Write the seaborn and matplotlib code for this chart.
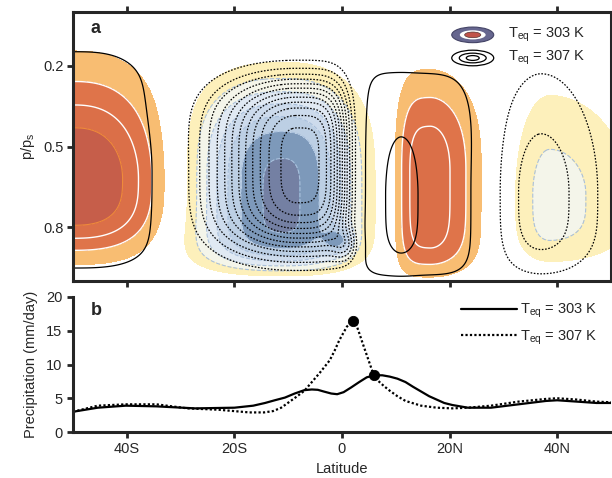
import numpy as np
import pandas as pd
import matplotlib
matplotlib.use("Agg")
import matplotlib.pyplot as plt
import seaborn as sns
from matplotlib.patches import Ellipse

# ---------------- data: panel b (precipitation, mm/day) ----------------
lat_303 = [-50, -45.4, -40.2, -34.5, -27.3, -20, -16.5, -14.3, -12.5, -10.6, -8.8, -7, -5.6,
           -4.5, -3.4, -2, -0.9, 0.3, 1.7, 3.2, 4.6, 6, 7.5, 8.9, 10.3, 11.8, 13.2, 14.7,
           16.2, 17.6, 19, 20.5, 23.4, 27.7, 32.8, 37.9, 40, 43.7, 47.3, 50]
precip_303 = [3.0, 3.6, 3.9, 3.8, 3.5, 3.6, 3.9, 4.3, 4.7, 5.1, 5.7, 6.2, 6.3,
              6.25, 6.0, 5.7, 5.6, 5.9, 6.6, 7.4, 8.1, 8.4, 8.4, 8.2, 7.9, 7.4, 6.7, 6.0,
              5.3, 4.8, 4.3, 4.0, 3.6, 3.6, 4.1, 4.6, 4.7, 4.5, 4.3, 4.3]
lat_307 = [-50, -45.4, -40.2, -34.5, -28.7, -23, -17.2, -14.5, -12.8, -11.3, -9.9, -8.5, -7,
           -5.6, -4.1, -2.3, -1.4, -0.5, 0.9, 2, 2.6, 3.1, 3.9, 4.6, 5.6, 6.7, 7.8, 8.9,
           10.3, 11.8, 14.7, 17.6, 20.5, 23.4, 27.7, 32.8, 37.9, 40, 43.7, 47.3, 50]
precip_307 = [3.0, 3.9, 4.1, 4.1, 3.5, 3.3, 2.9, 2.9, 3.1, 3.6, 4.4, 5.2, 6.1,
              7.4, 8.8, 10.6, 12.0, 13.6, 15.6, 16.5, 16.0, 14.9, 13.0, 11.4, 9.1, 7.6, 6.8, 6.1,
              5.3, 4.6, 3.9, 3.6, 3.5, 3.6, 3.9, 4.5, 4.9, 5.0, 4.8, 4.5, 4.4]
peak_lat = [6, 2]
peak_precip = [8.4, 16.5]
lat_ticks = [-40, -20, 0, 20, 40]
lat_ticklabels = ["40S", "20S", "0", "20N", "40N"]
p_ticks = [0.2, 0.5, 0.8]
precip_ticks = [0, 5, 10, 15, 20]

# ---------------- data: panel a (overturning cells) ----------------
# each cell: [lat0, p0, amplitude, w_south, w_north, w_top, w_bottom, q_south, q_north, q_top, q_bottom]
cell303_sh_ferrel = [-50, 0.62, 5.2, 14, 16, 0.37, 0.27, 2, 2.5, 2, 3]
cell303_hadley = [-11, 0.66, -7.2, 15.5, 13.3, 0.38, 0.29, 2.5, 2.5, 3, 6]
cell303_ascent = [-0.5, 0.85, -2.9, 2.6, 2.2, 0.045, 0.045, 2, 2, 2, 2]
cell303_nh_hadley = [16.3, 0.60, 3.6, 6.4, 8.9, 0.35, 0.37, 3.5, 2, 2.5, 6]
cell303_nh_ferrel = [38.5, 0.68, -2.4, 7.5, 16, 0.40, 0.26, 2, 2, 2, 4]
cells_303 = [cell303_sh_ferrel, cell303_hadley, cell303_ascent, cell303_nh_hadley, cell303_nh_ferrel]

cell307_sh_ferrel = [-50, 0.60, 1.8, 24.8, 22.7, 0.59, 0.42, 2, 3, 2, 3]
cell307_hadley = [-8.5, 0.57, -12.5, 14.3, 9.4, 0.31, 0.31, 2, 4, 4, 4]
cell307_ascent = [0.8, 0.87, -3, 2.5, 2, 0.06, 0.06, 2, 2, 2, 2]
cell307_nh_core = [11, 0.68, 0.9, 2.8, 3.0, 0.22, 0.24, 2, 2, 2, 5]
cell307_nh_broad = [10.5, 0.60, 1.7, 9, 16.7, 0.46, 0.42, 4, 6, 3, 6]
cell307_nh_ferrel = [37, 0.67, -2.5, 8.9, 11, 0.46, 0.31, 2, 2, 2, 4]
cells_307 = [cell307_sh_ferrel, cell307_hadley, cell307_ascent, cell307_nh_core,
             cell307_nh_broad, cell307_nh_ferrel]

fill_levels = [-30, -7, -6, -5, -4, -3, -2, -1, 1, 2, 3, 4, 30]
fill_colors = ["#7480a3", "#7d99ba", "#bccfe4", "#cddbec", "#e0e9f3", "#f4f5ea",
               "#fdf0bb", "#ffffff", "#f8bd72", "#df744a", "#db6f48", "#c65e4a"]
line_levels_307_neg = [-12, -11, -10, -9, -8, -7, -6, -5, -4, -3, -2, -1]
line_levels_307_pos = [1, 2, 3]


def build_field(cells, LAT, P):
    field = np.zeros_like(LAT)
    for lat0, p0, amp, wS, wN, wT, wB, qS, qN, qT, qB in cells:
        dl = LAT - lat0
        dp = P - p0
        ex = np.where(dl < 0, (np.abs(dl) / wS) ** qS, (np.abs(dl) / wN) ** qN)
        ey = np.where(dp < 0, (np.abs(dp) / wT) ** qT, (np.abs(dp) / wB) ** qB)
        field += amp * np.exp(-ex - ey)
    return field


lat_grid = np.linspace(-50, 50, 401)
p_grid = np.linspace(0, 1, 201)
LAT, P = np.meshgrid(lat_grid, p_grid)
psi_303 = build_field(cells_303, LAT, P)
psi_307 = build_field(cells_307, LAT, P)

# ---------------- style ----------------
sns.set_theme(style="ticks")
plt.rcParams["font.family"] = ["Liberation Sans", "DejaVu Sans"]
plt.rcParams["mathtext.fontset"] = "custom"
plt.rcParams["mathtext.rm"] = "Liberation Sans"
plt.rcParams["mathtext.it"] = "Liberation Sans:italic"
plt.rcParams["axes.linewidth"] = 2
FS = 10.5

fig = plt.figure(figsize=(6.12, 4.78), dpi=100)
ax1 = fig.add_axes([73 / 612, 1 - 281 / 478, 538 / 612, 269 / 478])
ax2 = fig.add_axes([73 / 612, 1 - 432 / 478, 538 / 612, 135 / 478])

# ---------------- panel a ----------------
ax1.contourf(LAT, P, psi_303, levels=fill_levels, colors=fill_colors)
ax1.contour(LAT, P, psi_303, levels=[-7, -6, -5, -4, -3, -2], colors="#a9c0dc", linewidths=0.8)
ax1.contour(LAT, P, psi_303, levels=[2, 3], colors="white", linewidths=1.0)
ax1.contour(LAT, P, psi_303, levels=[4], colors="#ef8a3a", linewidths=0.8)
ax1.contour(LAT, P, psi_307, levels=line_levels_307_neg, colors="black",
            linewidths=0.9, linestyles=[(0, (1.3, 1.3))])
ax1.contour(LAT, P, psi_307, levels=line_levels_307_pos, colors="black",
            linewidths=0.9, linestyles="solid")

ax1.set_xlim(-50, 50)
ax1.set_ylim(1, 0)
ax1.set_xticks(lat_ticks)
ax1.set_yticks(p_ticks)
ax1.set_yticklabels([str(v) for v in p_ticks])
ax1.tick_params(axis="x", top=True, bottom=True, labelbottom=False, direction="out",
                length=4, width=2)
ax1.tick_params(axis="y", direction="out", length=4, width=2, labelsize=FS, pad=3)
for s in ax1.spines.values():
    s.set_linewidth(2.2)
ax1.set_ylabel(r"p/p$_{\rm s}$", fontsize=FS, labelpad=4)
ax1.text(0.033, 0.94, "a", transform=ax1.transAxes, fontsize=13, fontweight="bold",
         va="center", ha="left")

# legend glyphs for panel a
tr = ax1.transAxes
ax1.add_patch(Ellipse((0.743, 0.915), 0.078, 0.058, transform=tr, facecolor="#66668f",
                      edgecolor="#444466", lw=0.8, zorder=5))
ax1.add_patch(Ellipse((0.743, 0.915), 0.048, 0.034, transform=tr, facecolor="white",
                      edgecolor="none", zorder=6))
ax1.add_patch(Ellipse((0.743, 0.915), 0.030, 0.021, transform=tr, facecolor="#c0534a",
                      edgecolor="#553333", lw=0.5, zorder=7))
for w, h in [(0.078, 0.058), (0.050, 0.036), (0.024, 0.018)]:
    ax1.add_patch(Ellipse((0.743, 0.829), w, h, transform=tr, facecolor="none",
                          edgecolor="black", lw=0.9, zorder=5))
ax1.text(0.808, 0.915, r"T$_{\rm eq}$ = 303 K", transform=tr, fontsize=FS, va="center",
         ha="left", zorder=8)
ax1.text(0.808, 0.829, r"T$_{\rm eq}$ = 307 K", transform=tr, fontsize=FS, va="center",
         ha="left", zorder=8)

# ---------------- panel b ----------------
lab303 = r"T$_{\rm eq}$ = 303 K"
lab307 = r"T$_{\rm eq}$ = 307 K"
df = pd.concat([
    pd.DataFrame({"lat": lat_303, "precip": precip_303, "Teq": lab303}),
    pd.DataFrame({"lat": lat_307, "precip": precip_307, "Teq": lab307}),
], ignore_index=True)
sns.lineplot(data=df, x="lat", y="precip", style="Teq", color="black",
             dashes={lab303: "", lab307: (1, 1)}, estimator=None, sort=True,
             linewidth=1.6, ax=ax2)
sns.scatterplot(x=peak_lat, y=peak_precip, color="black", s=55, zorder=5, ax=ax2,
                edgecolor="black", legend=False)
handles, labels = ax2.get_legend_handles_labels()
ax2.legend(handles, labels, loc="upper right", bbox_to_anchor=(1.0, 1.06), frameon=False,
           fontsize=FS, handlelength=3.8, handletextpad=0.25, labelspacing=0.55)
ax2.set_xlim(-50, 50)
ax2.set_ylim(0, 20)
ax2.set_xticks(lat_ticks)
ax2.set_xticklabels(lat_ticklabels)
ax2.set_yticks(precip_ticks)
ax2.tick_params(axis="both", direction="out", length=4, width=2, labelsize=FS)
sns.despine(ax=ax2)
for s in ["left", "bottom"]:
    ax2.spines[s].set_linewidth(2.2)
ax2.set_xlabel("Latitude", fontsize=FS, labelpad=4)
ax2.set_ylabel("Precipitation (mm/day)", fontsize=FS, labelpad=6)
ax2.text(0.033, 0.9, "b", transform=ax2.transAxes, fontsize=13, fontweight="bold",
         va="center", ha="left")

fig.savefig("out.png", dpi=100)
